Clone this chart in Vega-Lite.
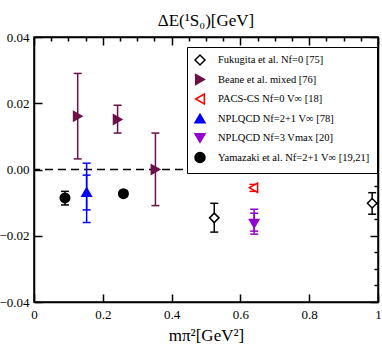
{
  "$schema": "https://vega.github.io/schema/vega-lite/v6.json",
  "width": 344,
  "height": 265,
  "autosize": "none",
  "padding": {"left": 34, "top": 37, "right": 4, "bottom": 46},
  "background": "white",
  "title": {"text": "ΔE(¹S₀)[GeV]", "font": "Liberation Serif", "fontSize": 17, "fontWeight": "normal", "color": "black", "offset": 1, "anchor": "middle"},
  "datasets": {
    "points": [
      {"series": "Fukugita et al. Nf=0 [75]", "x": 0.524, "y": -0.0146},
      {"series": "Fukugita et al. Nf=0 [75]", "x": 0.983, "y": -0.0102},
      {"series": "Beane et al. mixed [76]", "x": 0.127, "y": 0.0161},
      {"series": "Beane et al. mixed [76]", "x": 0.243, "y": 0.0151},
      {"series": "Beane et al. mixed [76]", "x": 0.353, "y": 0.0},
      {"series": "PACS-CS Nf=0 V∞ [18]", "x": 0.638, "y": -0.0055},
      {"series": "NPLQCD Nf=2+1 V∞ [78]", "x": 0.153, "y": -0.0068},
      {"series": "NPLQCD Nf=3 Vmax [20]", "x": 0.640, "y": -0.0163},
      {"series": "Yamazaki et al. Nf=2+1 V∞ [19,21]", "x": 0.090, "y": -0.0086},
      {"series": "Yamazaki et al. Nf=2+1 V∞ [19,21]", "x": 0.260, "y": -0.0073}
    ],
    "errors": [
      {"series": "Fukugita et al. Nf=0 [75]", "x": 0.524, "lo": -0.0189, "hi": -0.0102},
      {"series": "Fukugita et al. Nf=0 [75]", "x": 0.983, "lo": -0.0135, "hi": -0.0070},
      {"series": "Beane et al. mixed [76]", "x": 0.127, "lo": 0.0032, "hi": 0.029},
      {"series": "Beane et al. mixed [76]", "x": 0.243, "lo": 0.011, "hi": 0.0194},
      {"series": "Beane et al. mixed [76]", "x": 0.353, "lo": -0.0109, "hi": 0.011},
      {"series": "PACS-CS Nf=0 V∞ [18]", "x": 0.638, "lo": -0.0066, "hi": -0.0045},
      {"series": "NPLQCD Nf=2+1 V∞ [78]", "x": 0.153, "lo": -0.0160, "hi": 0.0019},
      {"series": "NPLQCD Nf=2+1 V∞ [78]", "x": 0.153, "lo": -0.0122, "hi": -0.0017},
      {"series": "NPLQCD Nf=3 Vmax [20]", "x": 0.640, "lo": -0.0195, "hi": -0.0120},
      {"series": "NPLQCD Nf=3 Vmax [20]", "x": 0.640, "lo": -0.0186, "hi": -0.0132},
      {"series": "Yamazaki et al. Nf=2+1 V∞ [19,21]", "x": 0.090, "lo": -0.0107, "hi": -0.0066},
      {"series": "Yamazaki et al. Nf=2+1 V∞ [19,21]", "x": 0.260, "lo": -0.0082, "hi": -0.0064}
    ]
  },
  "config": {
    "view": {"stroke": "black", "strokeWidth": 1.5},
    "axis": {
      "labelFont": "Liberation Serif",
      "labelFontSize": 13,
      "labelColor": "black",
      "titleFont": "Liberation Serif",
      "titleFontSize": 17,
      "titleFontWeight": "normal",
      "titleColor": "black",
      "tickColor": "black",
      "tickWidth": 1.5,
      "domainColor": "black",
      "domainWidth": 1.5,
      "grid": false
    }
  },
  "layer": [
    {
      "layer": [
        {
          "data": {"values": [{}]},
          "mark": {"type": "rule", "strokeDash": [8, 5], "strokeWidth": 1.5, "color": "black"},
          "encoding": {"y": {"datum": 0, "type": "quantitative", "scale": {"domain": [-0.04, 0.04], "nice": false, "zero": false}}}
        },
        {
          "data": {"name": "errors"},
          "mark": {"type": "rule", "strokeWidth": 1.5},
          "encoding": {
            "x": {"field": "x", "type": "quantitative"},
            "y": {"field": "lo", "type": "quantitative"},
            "y2": {"field": "hi"},
            "stroke": {"field": "series", "type": "nominal"}
          }
        },
        {
          "data": {"name": "errors"},
          "mark": {"type": "point", "shape": "M-1,0L1,0", "size": 64, "strokeWidth": 1.5, "filled": false, "opacity": 1},
          "encoding": {
            "x": {"field": "x", "type": "quantitative"},
            "y": {"field": "lo", "type": "quantitative"},
            "stroke": {"field": "series", "type": "nominal"}
          }
        },
        {
          "data": {"name": "errors"},
          "mark": {"type": "point", "shape": "M-1,0L1,0", "size": 64, "strokeWidth": 1.5, "filled": false, "opacity": 1},
          "encoding": {
            "x": {"field": "x", "type": "quantitative"},
            "y": {"field": "hi", "type": "quantitative"},
            "stroke": {"field": "series", "type": "nominal"}
          }
        },
        {
          "data": {"name": "points"},
          "mark": {"type": "point", "filled": true, "size": 90, "strokeWidth": 1.5, "opacity": 1},
          "encoding": {
            "x": {
              "field": "x", "type": "quantitative",
              "scale": {"domain": [0, 1], "nice": false, "zero": false},
              "axis": {
                "orient": "bottom",
                "values": [0, 0.05, 0.1, 0.15, 0.2, 0.25, 0.3, 0.35, 0.4, 0.45, 0.5, 0.55, 0.6, 0.65, 0.7, 0.75, 0.8, 0.85, 0.9, 0.95, 1],
                "labelExpr": "abs(datum.value*5-round(datum.value*5))<1e-6 ? format(datum.value, '~g') : ''",
                "tickSize": {"condition": {"test": "abs(datum.value*5-round(datum.value*5))<1e-6", "value": -8}, "value": -4},
                "labelPadding": 14,
                "labelFlush": false,
                "labelColor": "black",
                "tickColor": "black",
                "domainColor": "black",
                "title": "mπ²[GeV²]",
                "titlePadding": 6
              }
            },
            "y": {
              "field": "y", "type": "quantitative",
              "scale": {"domain": [-0.04, 0.04], "nice": false, "zero": false},
              "axis": {
                "orient": "left",
                "values": [-0.04, -0.035, -0.03, -0.025, -0.02, -0.015, -0.01, -0.005, 0, 0.005, 0.01, 0.015, 0.02, 0.025, 0.03, 0.035, 0.04],
                "labelExpr": "abs(datum.value*50-round(datum.value*50))<1e-6 ? format(datum.value, '.2f') : ''",
                "tickSize": {"condition": {"test": "abs(datum.value*50-round(datum.value*50))<1e-6", "value": -8}, "value": -4},
                "labelPadding": 13,
                "labelFlush": false,
                "labelColor": "black",
                "tickColor": "black",
                "domainColor": "black",
                "title": null
              }
            },
            "shape": {
              "field": "series", "type": "nominal",
              "scale": {
                "domain": ["Fukugita et al. Nf=0 [75]", "Beane et al. mixed [76]", "PACS-CS Nf=0 V∞ [18]", "NPLQCD Nf=2+1 V∞ [78]", "NPLQCD Nf=3 Vmax [20]", "Yamazaki et al. Nf=2+1 V∞ [19,21]"],
                "range": ["diamond", "triangle-right", "triangle-left", "triangle-up", "triangle-down", "circle"]
              },
              "legend": {
                "title": null,
                "orient": "none",
                "legendX": 153,
                "legendY": 10,
                "fillColor": "white",
                "strokeColor": "black",
                "padding": 7,
                "labelFont": "Liberation Serif",
                "labelFontSize": 10.5,
                "labelColor": "black",
                "labelLimit": 300,
                "symbolSize": 100,
                "symbolStrokeWidth": 1.5,
                "rowPadding": 3.5,
                "labelOffset": 12
              }
            },
            "fill": {
              "field": "series", "type": "nominal",
              "scale": {
                "domain": ["Fukugita et al. Nf=0 [75]", "Beane et al. mixed [76]", "PACS-CS Nf=0 V∞ [18]", "NPLQCD Nf=2+1 V∞ [78]", "NPLQCD Nf=3 Vmax [20]", "Yamazaki et al. Nf=2+1 V∞ [19,21]"],
                "range": ["white", "#6b1048", "white", "#0000ff", "#9400d3", "black"]
              }
            },
            "stroke": {
              "field": "series", "type": "nominal",
              "scale": {
                "domain": ["Fukugita et al. Nf=0 [75]", "Beane et al. mixed [76]", "PACS-CS Nf=0 V∞ [18]", "NPLQCD Nf=2+1 V∞ [78]", "NPLQCD Nf=3 Vmax [20]", "Yamazaki et al. Nf=2+1 V∞ [19,21]"],
                "range": ["black", "#6b1048", "#ff0000", "#0000ff", "#9400d3", "black"]
              }
            }
          }
        }
      ]
    },
    {
      "data": {"name": "points"},
      "mark": {"type": "point", "opacity": 0},
      "encoding": {
        "x": {
          "field": "x", "type": "quantitative",
          "axis": {
            "orient": "top",
            "values": [0, 0.05, 0.1, 0.15, 0.2, 0.25, 0.3, 0.35, 0.4, 0.45, 0.5, 0.55, 0.6, 0.65, 0.7, 0.75, 0.8, 0.85, 0.9, 0.95, 1],
            "labels": false,
            "tickColor": "black",
            "domainColor": "black",
            "tickSize": {"condition": {"test": "abs(datum.value*5-round(datum.value*5))<1e-6", "value": -8}, "value": -4},
            "title": null
          }
        },
        "y": {
          "field": "y", "type": "quantitative",
          "axis": {
            "orient": "right",
            "values": [-0.04, -0.035, -0.03, -0.025, -0.02, -0.015, -0.01, -0.005, 0, 0.005, 0.01, 0.015, 0.02, 0.025, 0.03, 0.035, 0.04],
            "labels": false,
            "tickColor": "black",
            "domainColor": "black",
            "tickSize": {"condition": {"test": "abs(datum.value*50-round(datum.value*50))<1e-6", "value": -8}, "value": -4},
            "title": null
          }
        }
      }
    }
  ],
  "resolve": {"axis": {"x": "independent", "y": "independent"}}
}
